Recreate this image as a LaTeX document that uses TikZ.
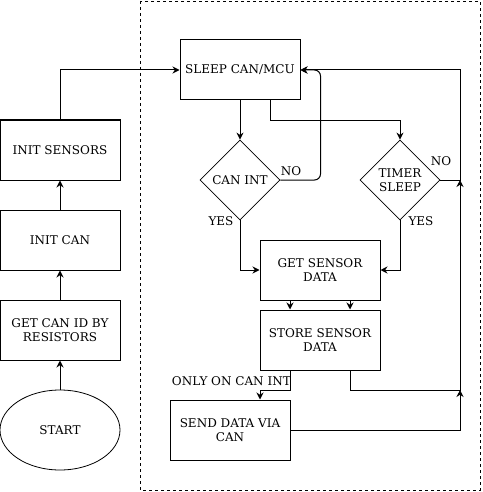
\documentclass[tikz,border=0pt]{standalone}
\usepackage{fontspec}
\setmainfont{DejaVu Serif}
\usetikzlibrary{calc,arrows.meta,shapes.geometric}
\tikzset{
    stepbox/.style={draw,line width=1pt,minimum width=120pt,minimum height=60pt,inner sep=0pt,align=center,font=\fontsize{12}{14}\selectfont},
    testbox/.style={draw,diamond,aspect=1,line width=0.8pt,minimum width=80pt,minimum height=80pt,inner sep=0pt,align=center,font=\fontsize{12}{14}\selectfont},
    flow/.style={line width=1pt,-{Stealth[length=7pt,width=7pt]}},
    lbl/.style={inner sep=0pt,font=\fontsize{12}{14}\selectfont}
}
\begin{document}
\begin{tikzpicture}[x=1pt,y=-1pt]
\useasboundingbox (0,0) rectangle (482,492); % page size

%%% LOOP FRAME %%%
\draw[dashed,line width=0.8pt] (140,1) rectangle (480,490);

%%% START COLUMN %%%
\node[draw,ellipse,line width=0.8pt,minimum width=120pt,minimum height=80pt,inner sep=0pt,font=\fontsize{12}{14}\selectfont] (start) at (60,430) {START};
\node[stepbox] (canid) at (60,330) {GET CAN ID BY\\RESISTORS};
\node[stepbox] (initcan) at (60,240) {INIT CAN};
\node[stepbox] (initsens) at (60,150) {INIT SENSORS};

%%% LOOP %%%
\node[stepbox] (sleep) at (240,70) {SLEEP CAN/MCU};
\node[testbox] (canint) at (240,180) {CAN INT};
\node[testbox] (timer) at (400,180) {TIMER\\SLEEP};
\node[stepbox] (getdata) at (320,270) {GET SENSOR\\DATA};
\node[stepbox] (store) at (320,340) {STORE SENSOR\\DATA};
\node[stepbox] (send) at (230,430) {SEND DATA VIA\\CAN};

\coordinate (railtop) at (460,70); % right return line
\coordinate (railmid) at (460,180); % timer NO joins here
\coordinate (raillow) at (460,390); % store joins here

%%% ARROWS %%%
\draw[flow] (start) -- (canid);
\draw[flow] (canid) -- (initcan);
\draw[flow] (initcan) -- (initsens);
\draw[flow] (initsens.north) |- (sleep.west);
\draw[flow] (sleep) -- (canint);
\draw[flow] ($(sleep.south)+(30,0)$) -- ++(0,20) -| (timer.north);
\draw[flow,rounded corners=6pt] (canint.east) -| ($(sleep.east)+(20,0)$) -- (sleep.east);
\draw[flow] (timer.east) -- (railmid) -- (railtop) -- (sleep.east);
\draw[flow] (canint.south) |- (getdata.west);
\draw[flow] (timer.south) |- (getdata.east);
\draw[flow] ($(getdata.south)+(-30,0)$) -- ($(store.north)+(-30,0)$);
\draw[flow] ($(getdata.south)+(30,0)$) -- ($(store.north)+(30,0)$);
\draw[flow] ($(store.south)+(-30,0)$) -- ++(0,20) -| ($(send.north)+(30,0)$);
\draw[flow] ($(store.south)+(30,0)$) |- (raillow) -- (railmid);
\draw[flow] (send.east) -| (raillow);

%%% LABELS %%%
\node[lbl] (canno) at (291,171) {NO};
\node[lbl] (canyes) at (221,221) {YES};
\node[lbl] (timerno) at (441,161) {NO};
\node[lbl] (timeryes) at (421,221) {YES};
\node[lbl,anchor=east] (only) at (291,381) {ONLY ON CAN INT};
\end{tikzpicture}
\end{document}
